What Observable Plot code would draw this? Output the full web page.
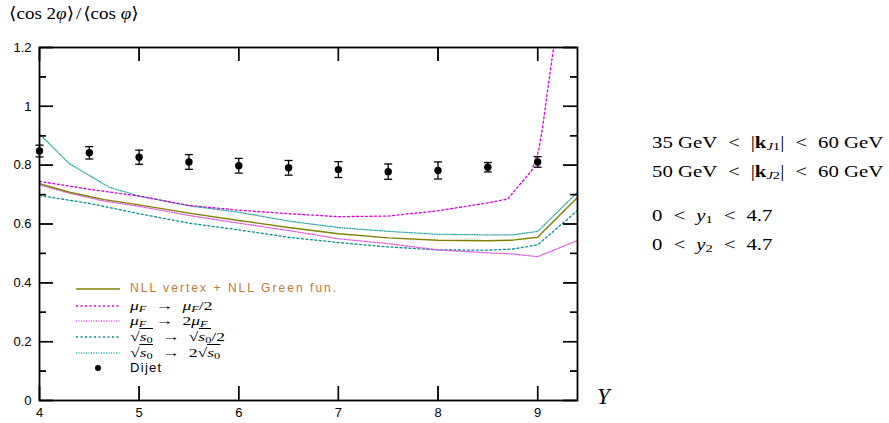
<!DOCTYPE html>
<html><head><meta charset="utf-8">
<script src="https://cdn.jsdelivr.net/npm/d3@7"></script>
<script src="https://cdn.jsdelivr.net/npm/@observablehq/plot@0.6"></script>
<style>
body{margin:0;background:#fff;}
#wrap{position:relative;width:889px;height:423px;overflow:hidden;background:#fff;}
#wrap > svg{position:absolute;left:0;top:0;}
#wrap > svg.top{pointer-events:none;}
.ov{position:absolute;white-space:nowrap;line-height:1;transform-origin:0 50%;}
.lserif{font-family:"Liberation Serif","DejaVu Serif",serif;}
.sans{font-family:"Liberation Sans","DejaVu Sans",sans-serif;}
sub{font-size:70%;vertical-align:-0.2em;line-height:0;}
.sq{border-top:1px solid #000;padding-top:0px;}
.rel{margin:0 0.28em;}
</style></head><body><div id="wrap"></div>
<script>
// ---- data ----
const dijetY   = [4, 4.5, 5, 5.5, 6, 6.5, 7, 7.5, 8, 8.5, 9];
const dijetVal = [0.848, 0.842, 0.827, 0.811, 0.798, 0.791, 0.785, 0.778, 0.782, 0.793, 0.811];
const dijetErr = [0.020, 0.021, 0.024, 0.025, 0.025, 0.025, 0.027, 0.026, 0.029, 0.016, 0.018];

const nllY   = [4, 4.3, 4.65, 5, 5.5, 6, 6.5, 7, 7.5, 8, 8.5, 8.75, 9, 9.4];
const nllVal = [0.737, 0.708, 0.683, 0.665, 0.637, 0.612, 0.588, 0.567, 0.553, 0.545, 0.543, 0.545, 0.555, 0.69];

const muHalfY   = [4, 4.5, 5, 5.5, 6, 6.5, 7, 7.5, 8, 8.5, 8.7, 8.84, 8.94, 9.01, 9.05, 9.1, 9.16, 9.2];
const muHalfVal = [0.745, 0.718, 0.695, 0.663, 0.647, 0.635, 0.625, 0.627, 0.645, 0.672, 0.685, 0.742, 0.782, 0.85, 0.929, 1.054, 1.2, 1.32];

const muTwoY   = [4, 4.3, 4.65, 5, 5.5, 6, 6.5, 7, 7.5, 8, 8.5, 8.75, 9, 9.4];
const muTwoVal = [0.733, 0.705, 0.678, 0.66, 0.629, 0.603, 0.578, 0.55, 0.533, 0.512, 0.502, 0.498, 0.489, 0.544];

const s0HalfY   = [4, 4.5, 5, 5.5, 6, 6.5, 7, 7.5, 8, 8.5, 8.75, 9, 9.4];
const s0HalfVal = [0.697, 0.67, 0.635, 0.603, 0.58, 0.555, 0.537, 0.522, 0.512, 0.511, 0.515, 0.529, 0.646];

const s0TwoY   = [4, 4.3, 4.7, 5, 5.5, 6, 6.5, 7, 7.5, 8, 8.5, 8.75, 9, 9.4];
const s0TwoVal = [0.906, 0.805, 0.725, 0.695, 0.662, 0.64, 0.61, 0.588, 0.575, 0.565, 0.563, 0.563, 0.575, 0.708];

const xTicks = [4, 5, 6, 7, 8, 9];
const yTicks = [0, 0.2, 0.4, 0.6, 0.8, 1, 1.2];
const yTickLabels = ["0", "0.2", "0.4", "0.6", "0.8", "1", "1.2"];
const yMinor = [0.1, 0.3, 0.5, 0.7, 0.9, 1.1];

// ---- build ----
const W = 889, H = 423, mL = 39, mR = 312, mT = 47, mB = 23;
const FW = W - mL - mR, FH = H - mT - mB;
const toPts = (xs, ys) => xs.map((x, i) => ({x, y: ys[i]}));
const dijet = dijetY.map((x, i) => ({x, y: dijetVal[i], lo: dijetVal[i] - dijetErr[i], hi: dijetVal[i] + dijetErr[i]}));

const capSymbol = {draw(ctx, size) { const w = Math.sqrt(size); ctx.moveTo(-w / 2, 0); ctx.lineTo(w / 2, 0); }};

const C = {nll: "#808000", muHalf: "#d800d8", muTwo: "#e050e0", s0Half: "#0a9090", s0Two: "#2aa8a8"};
const D = {nll: null, muHalf: "2,2.5", muTwo: "1,1.5", s0Half: "2,2.5", s0Two: "1,1.5"};
const series = [
  {pts: toPts(s0TwoY, s0TwoVal), stroke: C.s0Two, dash: D.s0Two, w: 1.3},
  {pts: toPts(s0HalfY, s0HalfVal), stroke: C.s0Half, dash: D.s0Half, w: 1.3},
  {pts: toPts(muTwoY, muTwoVal), stroke: C.muTwo, dash: D.muTwo, w: 1.3},
  {pts: toPts(muHalfY, muHalfVal), stroke: C.muHalf, dash: D.muHalf, w: 1.3},
  {pts: toPts(nllY, nllVal), stroke: C.nll, dash: D.nll, w: 1.4}
];

const tk = {stroke: "black", strokeWidth: 1.4};
const tickMarks = () => [
  Plot.ruleY(yTicks, {y: d => d, insetRight: FW - 14, ...tk}),
  Plot.ruleY(yMinor, {y: d => d, insetRight: FW - 7, ...tk}),
  Plot.ruleY(yTicks, {y: d => d, insetLeft: FW - 14, ...tk}),
  Plot.ruleY(yMinor, {y: d => d, insetLeft: FW - 7, ...tk}),
  Plot.ruleX(xTicks, {x: d => d, insetTop: FH - 14, ...tk}),
  Plot.ruleX(xTicks, {x: d => d, insetBottom: FH - 14, ...tk})
];
const frame = {
  width: W, height: H,
  marginLeft: mL, marginRight: mR, marginTop: mT, marginBottom: mB
};

const chart = Plot.plot({
  ...frame,
  style: {fontFamily: "'Liberation Sans', Arial, sans-serif", fontSize: "13px", background: "white", color: "black"},
  x: {domain: [4, 9.4], label: null},
  y: {domain: [0, 1.2], label: null},
  marks: [
    ...series.map(s => Plot.line(s.pts, {x: "x", y: "y", stroke: s.stroke, strokeWidth: s.w, strokeDasharray: s.dash, clip: true})),
    Plot.ruleX(dijet, {x: "x", y1: "lo", y2: "hi", stroke: "black", strokeWidth: 1.3}),
    Plot.dot(dijet, {x: "x", y: "lo", symbol: capSymbol, r: 4.5, stroke: "black", strokeWidth: 1.3}),
    Plot.dot(dijet, {x: "x", y: "hi", symbol: capSymbol, r: 4.5, stroke: "black", strokeWidth: 1.3}),
    Plot.dot(dijet, {x: "x", y: "y", r: 3.7, fill: "black"}),
    Plot.axisY(yTicks, {anchor: "left", tickSize: 0, tickPadding: 8, tickFormat: (d, i) => yTickLabels[i], fontSize: 13}),
    Plot.axisX(xTicks, {anchor: "bottom", tickSize: 0, tickPadding: 7, fontSize: 13}),
    Plot.frame({stroke: "black", strokeWidth: 1.8}),
    ...tickMarks()
  ]
});

const wrap = document.getElementById("wrap");
wrap.appendChild(chart);

function ov(html, left, top, cls, style) {
  const d = document.createElement("div");
  d.className = "ov " + (cls || "");
  d.style.left = left + "px"; d.style.top = top + "px";
  if (style) d.style.cssText += style;
  d.innerHTML = html;
  wrap.appendChild(d);
  return d;
}
const LT = "<span class='rel'>&lt;</span>";
const AR = "<span class='rel'>→</span>";

// y-axis title
ov("⟨cos 2<i>φ</i>⟩<span style='margin:0 0.1em'>/</span>⟨cos <i>φ</i>⟩", 9, 5, "lserif", "font-size:17px;transform:scaleX(1.12);");
// x-axis title
ov("<i>Y</i>", 597, 385, "lserif", "font-size:23px;");
// right annotations
const rs = "font-size:16px;transform:scaleX(1.3);";
ov(`35 GeV ${LT} |<b>k</b><sub><i>J</i>1</sub>| ${LT} 60 GeV`, 652, 135, "lserif", rs);
ov(`50 GeV ${LT} |<b>k</b><sub><i>J</i>2</sub>| ${LT} 60 GeV`, 652, 164, "lserif", rs);
ov(`0 ${LT} <i>y</i><sub>1</sub> ${LT} 4.7`, 652, 208, "lserif", rs);
ov(`0 ${LT} <i>y</i><sub>2</sub> ${LT} 4.7`, 652, 237, "lserif", rs);

// legend
const ms = "font-size:13px;transform:scaleX(1.35);";
const sq = "√<span class='sq'><i>s</i><sub>0</sub></span>";
const legend = [
  {cy: 289, key: "nll", html: "NLL vertex + NLL Green fun.", cls: "sans", style: "font-size:12px;letter-spacing:2.05px;color:#c07a35;"},
  {cy: 306, key: "muHalf", html: `<i>μ<sub>F</sub></i> ${AR} <i>μ<sub>F</sub></i>/2`, cls: "lserif", style: ms},
  {cy: 321, key: "muTwo", html: `<i>μ<sub>F</sub></i> ${AR} 2<i>μ<sub>F</sub></i>`, cls: "lserif", style: ms},
  {cy: 337, key: "s0Half", html: `${sq} ${AR} ${sq}/2`, cls: "lserif", style: ms},
  {cy: 353, key: "s0Two", html: `${sq} ${AR} 2${sq}`, cls: "lserif", style: ms}
];
legend.forEach(e => {
  const dash = D[e.key] ? `stroke-dasharray="${D[e.key]}"` : "";
  ov(`<svg width="44" height="6" style="display:block"><line x1="0" x2="44" y1="3" y2="3" stroke="${C[e.key]}" stroke-width="1.3" ${dash}/></svg>`, 76, e.cy - 3);
  ov(e.html, 130, e.cy - 7, e.cls, e.style);
});
ov(`<svg width="8" height="8" style="display:block"><circle cx="4" cy="4" r="3" fill="black"/></svg>`, 94, 364);
ov("Dijet", 130, 361, "sans", "font-size:13px;letter-spacing:1.3px;");

// top layer: frame ticks, same scales, transparent background
const ticksLayer = Plot.plot({
  ...frame,
  style: {background: "none", color: "black"},
  x: {domain: [4, 9.4], axis: null},
  y: {domain: [0, 1.2], axis: null},
  marks: tickMarks()
});
ticksLayer.classList.add("top");
wrap.appendChild(ticksLayer);
</script>
</body></html>
